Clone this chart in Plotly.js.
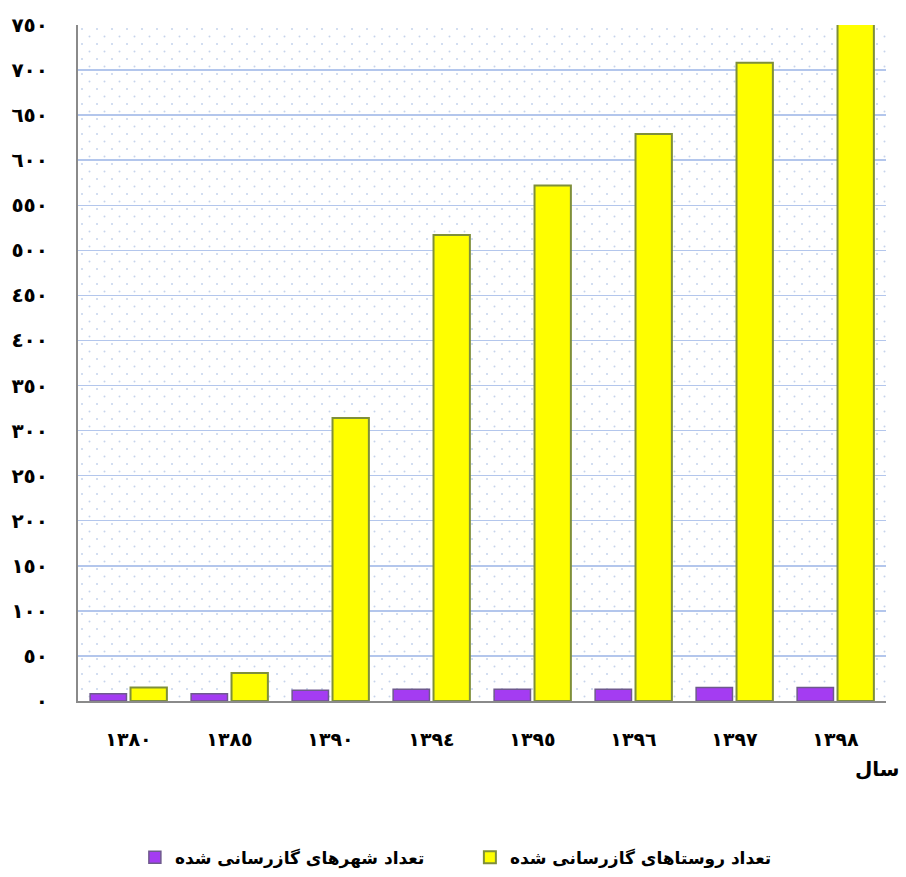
<!DOCTYPE html>
<html>
<head>
<meta charset="utf-8">
<script src="https://cdn.plot.ly/plotly-3.0.1.min.js"></script>
<style>html,body{margin:0;padding:0;background:#fff;}#chart{width:906px;height:877px;}</style>
</head>
<body>
<div id="chart"></div>
<script>
// Data
const years = ['1380','1385','1390','1394','1395','1396','1397','1398'];
const yearLabels = ['١٣٨٠','١٣٨٥','١٣٩٠','١٣٩٤','١٣٩٥','١٣٩٦','١٣٩٧','١٣٩٨'];
const citiesGas = [8, 8, 12, 13, 13, 13, 15, 15];
const villagesGas = [15, 31, 314, 517, 572, 629, 708, 760];
const yTickVals = [0,50,100,150,200,250,300,350,400,450,500,550,600,650,700,750];
const yTickText = ['٠','٥٠','١٠٠','١٥٠','٢٠٠','٢٥٠','٣٠٠','٣٥٠','٤٠٠','٤٥٠','٥٠٠','٥٥٠','٦٠٠','٦٥٠','٧٠٠','٧٥٠'];
const seriesNames = ['تعداد شهرهای گازرسانی شده', 'تعداد روستاهای گازرسانی شده'];

const dotSvg = "data:image/svg+xml;utf8," + encodeURIComponent(
  '<svg xmlns="http://www.w3.org/2000/svg" width="808" height="676">' +
  '<defs><pattern id="p" width="15" height="15" patternUnits="userSpaceOnUse">' +
  '<circle cx="4" cy="4" r="1" fill="#c5d3ec"/><circle cx="11.5" cy="11.5" r="1" fill="#c5d3ec"/></pattern></defs>' +
  '<rect width="808" height="676" fill="url(#p)"/></svg>');

const traces = [
  {
    type: 'bar', x: years, y: citiesGas, name: '<b>' + seriesNames[0] + '</b>',
    marker: {color: '#a43cf2', line: {color: '#6e5a8c', width: 1.5}},
    hoverinfo: 'y'
  },
  {
    type: 'bar', x: years, y: villagesGas, name: '<b>' + seriesNames[1] + '</b>',
    marker: {color: '#ffff00', line: {color: '#7f8f3a', width: 2}},
    hoverinfo: 'y'
  }
];

const layout = {
  width: 906, height: 877,
  margin: {l: 78, r: 20, t: 25, b: 176, autoexpand: false},
  paper_bgcolor: '#ffffff',
  plot_bgcolor: '#ffffff',
  font: {family: 'DejaVu Sans, sans-serif', color: '#000'},
  barmode: 'group',
  bargap: 0.2,
  bargroupgap: 0.1,
  xaxis: {
    type: 'category',
    tickvals: years,
    ticktext: yearLabels.map(t => '<b>' + t + '</b>'),
    tickfont: {size: 19, family: 'DejaVu Sans'},
    showline: true, linecolor: '#8a8a8a', linewidth: 2,
    ticks: '', showgrid: false, zeroline: false,
    ticklabelstandoff: 20, automargin: false
  },
  yaxis: {
    range: [0, 750],
    tickvals: yTickVals,
    ticktext: yTickText.map(t => '<b>' + t + '</b>'),
    tickfont: {size: 20, family: 'DejaVu Sans'},
    showline: true, linecolor: '#8a8a8a', linewidth: 2,
    ticks: '', showgrid: true, gridcolor: '#b3c6ec', gridwidth: 1.5,
    zeroline: false,
    ticklabelstandoff: 24, automargin: false
  },
  images: [{
    source: dotSvg, xref: 'paper', yref: 'paper', x: 0, y: 1,
    sizex: 1, sizey: 1, sizing: 'stretch', layer: 'below'
  }],
  showlegend: true,
  legend: {
    orientation: 'h', x: 0.485, xanchor: 'center',
    yref: 'container', y: 0.022, yanchor: 'middle',
    font: {size: 17, family: 'DejaVu Sans'},
    traceorder: 'normal', itemwidth: 30, entrywidth: 290
  },
  annotations: [{
    text: '<b>سال</b>', xref: 'paper', yref: 'paper', x: 1.02, y: -0.10,
    xanchor: 'right', yanchor: 'middle', showarrow: false,
    font: {size: 20, family: 'DejaVu Sans'}
  }]
};

Plotly.newPlot('chart', traces, layout, {displayModeBar: false, staticPlot: true});
</script>
</body>
</html>
